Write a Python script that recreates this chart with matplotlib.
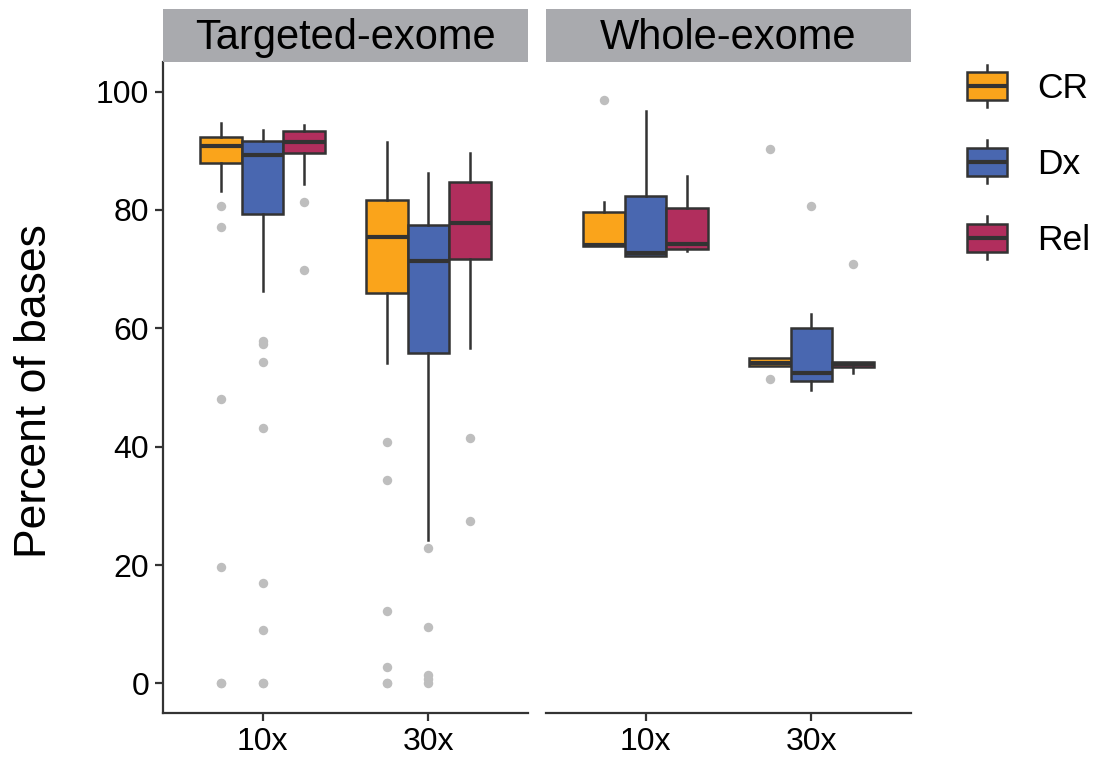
import matplotlib
matplotlib.use("Agg")
import matplotlib.pyplot as plt
from matplotlib.patches import Rectangle
from matplotlib.lines import Line2D
from matplotlib.legend_handler import HandlerBase

plt.rcParams['font.family'] = ['Liberation Sans', 'DejaVu Sans']

# ---------------- data ----------------
facets = ["Targeted-exome", "Whole-exome"]
coverages = ["10x", "30x"]
groups = ["CR", "Dx", "Rel"]
group_colors = ["#FAA41B", "#4967B0", "#B12E5D"]

# nested as [facet][coverage][group]
q1 = [[[88.0, 79.3, 89.7], [66.0, 55.8, 71.7]],
      [[73.9, 72.2, 73.4], [53.6, 51.1, 53.4]]]
med = [[[90.8, 89.3, 91.5], [75.5, 71.3, 77.8]],
       [[74.0, 72.7, 74.3], [54.2, 52.4, 54.0]]]
q3 = [[[92.4, 91.6, 93.3], [81.6, 77.5, 84.8]],
      [[79.6, 82.3, 80.3], [55.0, 60.0, 54.3]]]
whislo = [[[83.2, 66.3, 84.4], [54.1, 24.2, 56.6]],
          [[73.9, 72.2, 73.1], [53.6, 49.6, 52.4]]]
whishi = [[[94.7, 93.5, 94.3], [91.5, 86.2, 89.7]],
          [[81.3, 96.7, 85.7], [55.0, 62.4, 54.3]]]
fliers = [[[[80.7, 77.1, 48.0, 19.7, 0.0, 0.0],
            [57.8, 57.3, 54.3, 43.2, 16.9, 9.1, 0.0, 0.0],
            [81.3, 69.9]],
           [[40.8, 34.3, 12.3, 2.8, 0.0, 0.0],
            [22.8, 9.6, 1.5, 0.8, 0.0],
            [41.4, 27.4]]],
          [[[98.5], [], []],
           [[90.3, 51.5], [80.7], [70.9]]]]

y_ticks = [0, 20, 40, 60, 80, 100]
y_label = "Percent of bases"

# ---------------- figure ----------------
W, H = 1099, 765
fig = plt.figure(figsize=(W / 100, H / 100), dpi=100)

def fx(px):
    return px / W

def fy(py):
    return 1 - py / H

edge = "#333333"
panel_lefts = [163, 546]
panel_w = 365
panel_top, panel_bot = 62, 713
dodge = 0.25
box_w = 0.25
lw_box = 1.8
lw_med = 3.0

axes = []
for fi, facet in enumerate(facets):
    ax = fig.add_axes([fx(panel_lefts[fi]), fy(panel_bot), panel_w / W,
                       (panel_bot - panel_top) / H])
    axes.append(ax)
    for ci, cov in enumerate(coverages):
        stats, pos, cols = [], [], []
        for gi, g in enumerate(groups):
            stats.append(dict(med=med[fi][ci][gi], q1=q1[fi][ci][gi], q3=q3[fi][ci][gi],
                              whislo=whislo[fi][ci][gi], whishi=whishi[fi][ci][gi],
                              fliers=fliers[fi][ci][gi], label=g))
            pos.append(ci + 1 + (gi - 1) * dodge)
            cols.append(group_colors[gi])
        bp = ax.bxp(stats, positions=pos, widths=box_w, patch_artist=True,
                    showcaps=False,
                    boxprops=dict(edgecolor=edge, linewidth=lw_box),
                    medianprops=dict(color=edge, linewidth=lw_med, solid_capstyle='butt'),
                    whiskerprops=dict(color=edge, linewidth=lw_box),
                    flierprops=dict(marker='o', markerfacecolor='#BEBEBE',
                                    markeredgecolor='none', markersize=6.8),
                    zorder=3)
        for patch, c in zip(bp['boxes'], cols):
            patch.set_facecolor(c)
    ax.set_xlim(0.4, 2.6)
    ax.set_ylim(-5, 105)
    ax.set_xticks([1, 2])
    ax.set_xticklabels(coverages, fontsize=23)
    ax.set_yticks(y_ticks)
    for s in ["top", "right"]:
        ax.spines[s].set_visible(False)
    ax.spines["bottom"].set_linewidth(1.6)
    ax.spines["bottom"].set_color(edge)
    ax.spines["left"].set_linewidth(1.6)
    ax.spines["left"].set_color(edge)
    ax.tick_params(axis='both', length=6, width=1.6, color=edge,
                   labelsize=23, labelcolor='black', pad=4)
    if fi == 0:
        ax.set_yticklabels([str(t) for t in y_ticks])
        ax.set_ylabel(y_label, fontsize=32)
    else:
        ax.spines["left"].set_visible(False)
        ax.tick_params(axis='y', left=False, labelleft=False)

    # facet strip
    sax = fig.add_axes([fx(panel_lefts[fi]), fy(62), panel_w / W, 53 / H])
    sax.set_facecolor("#A9AAAE")
    sax.set_xticks([])
    sax.set_yticks([])
    for s in sax.spines.values():
        s.set_visible(False)
    sax.text(0.5, 0.46, facet, ha='center', va='center', fontsize=30,
             color='black', transform=sax.transAxes)

axes[0].yaxis.set_label_coords(-0.296, 0.495)


# ---------------- legend ----------------
class BoxHandler(HandlerBase):
    def __init__(self, color):
        super().__init__()
        self.color = color

    def create_artists(self, legend, orig_handle, xdescent, ydescent,
                       width, height, fontsize, trans):
        x0, y0 = -xdescent, -ydescent
        cx = x0 + width / 2
        bh = height * 0.65
        by = y0 + (height - bh) / 2
        wl = Line2D([cx, cx], [y0, y0 + height], color=edge, lw=lw_box, transform=trans)
        rect = Rectangle((x0, by), width, bh, facecolor=self.color,
                         edgecolor=edge, lw=lw_box, transform=trans)
        ml = Line2D([x0, x0 + width], [y0 + height / 2, y0 + height / 2],
                    color=edge, lw=lw_med, transform=trans, solid_capstyle='butt')
        return [wl, rect, ml]


handles = [Line2D([], [], label=g) for g in groups]
hmap = {h: BoxHandler(c) for h, c in zip(handles, group_colors)}
fig.legend(handles=handles, labels=groups, handler_map=hmap,
           loc='upper left', bbox_to_anchor=(fx(967), fy(64.5)),
           frameon=False, fontsize=25.5, handlelength=1.13, handleheight=1.49,
           labelspacing=0.93, handletextpad=0.85, borderpad=0.0,
           borderaxespad=0.0)

fig.savefig("out.png", dpi=100)
